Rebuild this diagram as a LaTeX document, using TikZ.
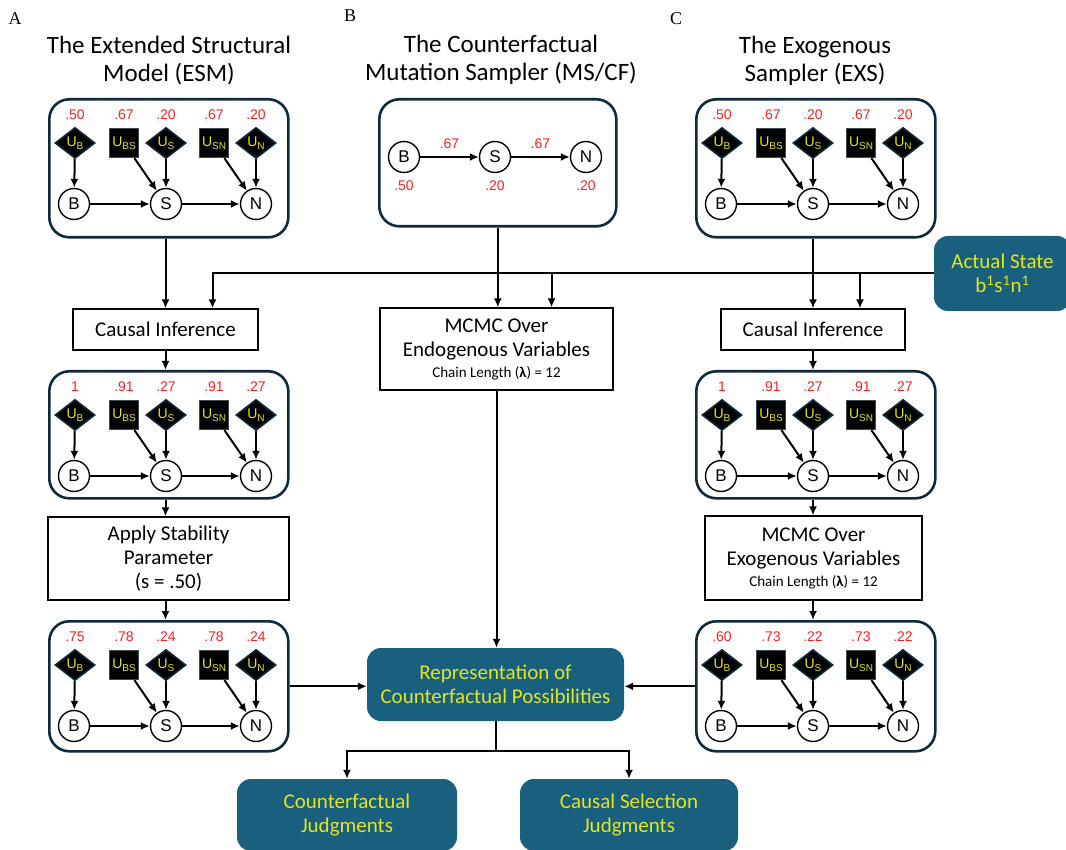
\documentclass[tikz,border=0pt]{standalone}
\usepackage{fontspec}
\setmainfont{Carlito}
\newfontfamily\arialfont{Liberation Sans}
\newfontfamily\serifont{Liberation Serif}
\usetikzlibrary{shapes.geometric,arrows.meta}
\definecolor{panelnavy}{HTML}{0F2A3A}
\definecolor{outblue}{HTML}{195F7E}
\definecolor{lblyellow}{HTML}{E4E619}
\definecolor{probred}{HTML}{FF1E1E}
\def\titlefont{\fontsize{25}{28}\selectfont}
\def\boxfont{\fontsize{21}{24}\selectfont}
\def\smallfont{\fontsize{15}{18}\selectfont}
\def\varfont{\arialfont\fontsize{17}{17}\selectfont}
\def\numfont{\arialfont\fontsize{14}{14}\selectfont}
\def\ufont{\arialfont\fontsize{14}{14}\selectfont}
\def\usub#1{U\raisebox{-2.5pt}{\fontsize{10}{10}\selectfont#1}}
% one structural model panel: name, left, top, bottom, five probabilities
\def\scmpanel#1#2#3#4#5#6#7#8#9{%
  \node[panelbox,minimum height={#4-#3},anchor=north west] (#1) at (#2,#3) {};
  \node[udia] (#1ub)  at ([shift={(27,45)}]#1.north west)  {\usub{B}};
  \node[usq]  (#1ubs) at ([shift={(76,45)}]#1.north west)  {\usub{BS}};
  \node[udia] (#1us)  at ([shift={(118,45)}]#1.north west) {\usub{S}};
  \node[usq]  (#1usn) at ([shift={(166,45)}]#1.north west) {\usub{SN}};
  \node[udia] (#1un)  at ([shift={(208,45)}]#1.north west) {\usub{N}};
  \node[var]  (#1b)   at ([shift={(26,106)}]#1.north west)  {B};
  \node[var]  (#1s)   at ([shift={(118,106)}]#1.north west) {S};
  \node[var]  (#1n)   at ([shift={(208,106)}]#1.north west) {N};
  \node[num] (#1pb)  at ([yshift=28pt]#1ub)  {#5};
  \node[num] (#1pbs) at ([yshift=28pt]#1ubs) {#6};
  \node[num] (#1ps)  at ([yshift=28pt]#1us)  {#7};
  \node[num] (#1psn) at ([yshift=28pt]#1usn) {#8};
  \node[num] (#1pn)  at ([yshift=28pt]#1un)  {#9};
  \draw[inlink] (#1ub) -- (#1b);
  \draw[inlink] (#1ubs) -- (#1s);
  \draw[inlink] (#1us) -- (#1s);
  \draw[inlink] (#1usn) -- (#1n);
  \draw[inlink] (#1un) -- (#1n);
  \draw[inlink] (#1b) -- (#1s);
  \draw[inlink] (#1s) -- (#1n);
}

\begin{document}
\begin{tikzpicture}[x=1pt,y=-1pt,
    panelbox/.style={draw=panelnavy,line width=2.6pt,rounded corners=20pt,minimum width=239pt,inner sep=0pt},
    udia/.style={diamond,aspect=1.3,draw=panelnavy,line width=1.6pt,fill=black,text=lblyellow,font=\ufont,minimum width=40pt,minimum height=31pt,inner sep=0pt},
    usq/.style={draw=panelnavy!60!gray,line width=1.2pt,fill=black,text=lblyellow,font=\ufont,minimum size=29pt,inner sep=0pt},
    var/.style={circle,draw,line width=1.4pt,fill=white,font=\varfont,minimum size=31pt,inner sep=0pt},
    num/.style={text=probred,font=\numfont,inner sep=0pt},
    inlink/.style={-{Latex[length=9pt,width=8pt]},line width=2pt},
    link/.style={-{Latex[length=9pt,width=8pt]},line width=2pt},
    procbox/.style={draw,line width=1.3pt,fill=white,align=center,font=\boxfont,inner sep=0pt},
    outbox/.style={fill=outblue,rounded corners=14pt,text=lblyellow,align=center,font=\boxfont,inner sep=0pt},
    paneltitle/.style={align=center,font=\titlefont},
    letter/.style={font=\serifont\fontsize{18}{18}\selectfont}
  ]
\useasboundingbox (0,0) rectangle (1066,850);
\clip (0,0) rectangle (1066,850);

\node[letter] (la) at (15,19) {A};
\node[letter] (lb) at (350,16) {B};
\node[letter] (lc) at (676,19) {C};
\node[paneltitle] (ta) at (169,61) {The Extended Structural\\Model (ESM)};
\node[paneltitle] (tb) at (501,60) {The Counterfactual\\Mutation Sampler (MS/CF)};
\node[paneltitle] (tc) at (815,61) {The Exogenous\\Sampler (EXS)};

% ESM and EXS panels
\scmpanel{a1}{48}{98}{236}{.50}{.67}{.20}{.67}{.20}
\scmpanel{a2}{48}{370}{497}{1}{.91}{.27}{.91}{.27}
\scmpanel{a3}{48}{620}{750}{.75}{.78}{.24}{.78}{.24}
\scmpanel{c1}{695}{98}{236}{.50}{.67}{.20}{.67}{.20}
\scmpanel{c2}{695}{370}{497}{1}{.91}{.27}{.91}{.27}
\scmpanel{c3}{695}{620}{750}{.60}{.73}{.22}{.73}{.22}

% MS/CF panel
\node[panelbox,minimum width=237pt,minimum height=127pt,anchor=north west] (pb) at (378,98) {};
\node[var] (bb) at (404,157) {B};
\node[var] (bs) at (495,157) {S};
\node[var] (bn) at (586,157) {N};
\draw[inlink] (bb) -- node[num,above=7pt] (pbbs) {.67} (bs);
\draw[inlink] (bs) -- node[num,above=7pt] (pbsn) {.67} (bn);
\node[num] (pbb) at ([yshift=-29pt]bb) {.50};
\node[num] (pbs) at ([yshift=-29pt]bs) {.20};
\node[num] (pbn) at ([yshift=-29pt]bn) {.20};

% steps
\node[procbox,minimum width=185pt,minimum height=41pt] (ciA) at (165.5,329.5) {Causal Inference};
\node[procbox,minimum width=184pt,minimum height=41pt] (ciC) at (813,329.5) {Causal Inference};
\node[procbox,minimum width=233pt,minimum height=82pt] (mcB) at (496.5,349)
  {MCMC Over\\Endogenous Variables\\[-3pt]{\smallfont Chain Length (\textbf{λ}) = 12}};
\node[procbox,minimum width=241pt,minimum height=83pt] (stab) at (168.5,558.5)
  {Apply Stability\\Parameter\\(s = .50)};
\node[procbox,minimum width=217pt,minimum height=84pt] (mcC) at (813.5,558)
  {MCMC Over\\Exogenous Variables\\[-3pt]{\smallfont Chain Length (\textbf{λ}) = 12}};

\node[outbox,minimum width=137pt,minimum height=75pt] (state) at (1002.5,273.5)
  {Actual State\\b\textsuperscript{1}s\textsuperscript{1}n\textsuperscript{1}};
\node[outbox,minimum width=257pt,minimum height=73pt] (rep) at (495.5,684.5)
  {Representation of\\Counterfactual Possibilities};
\node[outbox,minimum width=220pt,minimum height=72pt] (cfj) at (347,815) {Counterfactual\\Judgments};
\node[outbox,minimum width=218pt,minimum height=72pt] (csj) at (629,815) {Causal Selection\\Judgments};

% connectors
\draw[link] (state) -| ([xshift=47pt]ciA.north);
\draw[link] ([xshift=55pt]mcB.north |- state) -- ([xshift=55pt]mcB.north);
\draw[link] ([xshift=47pt]ciC.north |- state) -- ([xshift=47pt]ciC.north);
\draw[link] (a1.south -| ciA) -- (ciA);
\draw[link] (ciA) -- (ciA |- a2.north);
\draw[link] (a2.south -| ciA) -- (stab.north -| ciA);
\draw[link] (stab.south -| ciA) -- (a3.north -| ciA);
\draw[link] (pb) -- (pb |- mcB.north);
\draw[link] (mcB) -- (mcB |- rep.north);
\draw[link] (c1.south -| ciC) -- (ciC);
\draw[link] (ciC) -- (ciC |- c2.north);
\draw[link] (c2.south -| ciC) -- (mcC.north -| ciC);
\draw[link] (mcC.south -| ciC) -- (c3.north -| ciC);
\draw[link] (a3.east) -- (a3.east -| rep.west);
\draw[link] (c3.west) -- (c3.west -| rep.east);
\draw[link] (rep.south) -- ++(0,30) -| (cfj);
\draw[link] (rep.south) -- ++(0,30) -| (csj);
\end{tikzpicture}
\end{document}
